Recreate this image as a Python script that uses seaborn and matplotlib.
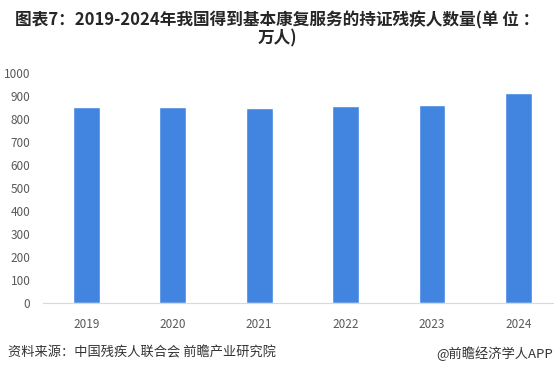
#importing important libraries

import matplotlib
matplotlib.use("Agg")
import matplotlib.pyplot as plt
import pandas as pd
import seaborn as sns

# chart data
years = ["2019", "2020", "2021", "2022", "2023", "2024"]
people = [852, 852, 848, 857, 861, 913]
y_ticks = [0, 100, 200, 300, 400, 500, 600, 700, 800, 900, 1000]

title_text = "图表7：2019-2024年我国得到基本康复服务的持证残疾人数量(单 位 ：\n万人)"
source_text = "资料来源：中国残疾人联合会 前瞻产业研究院"
brand_text = "@前瞻经济学人APP"

sns.set_style("white")
plt.rcParams["font.family"] = ["Noto Sans CJK SC", "DejaVu Sans"]

df = pd.DataFrame({"year": years, "people": people})

fig = plt.figure(figsize=(5.54, 3.75), dpi=100)
ax = fig.add_axes([0.0776, 0.192, 0.9224, 0.6133])

sns.barplot(data=df, x="year", y="people", color="#4285E0", width=0.31,
            saturation=1, ax=ax)

ax.set_xlim(-0.5, 5.41)
ax.set_ylim(0, 1000)
ax.set_yticks(y_ticks)
ax.set_xlabel("")
ax.set_ylabel("")
ax.tick_params(axis="both", length=0, labelsize=8.5, colors="#595959")
ax.tick_params(axis="x", pad=11)
ax.tick_params(axis="y", pad=9)
for side in ["top", "right", "left"]:
    ax.spines[side].set_visible(False)
ax.spines["bottom"].set_color("#d9d9d9")

fig.text(0.5, 0.922, title_text, ha="center", va="center", fontsize=12,
         fontweight="bold", color="#262626", linespacing=1.0)
fig.text(0.015, 0.058, source_text, ha="left", va="center", fontsize=9.5,
         color="#333333")
fig.text(0.998, 0.058, brand_text, ha="right", va="center", fontsize=9.5,
         color="#333333")

fig.savefig("out.png", dpi=100)
